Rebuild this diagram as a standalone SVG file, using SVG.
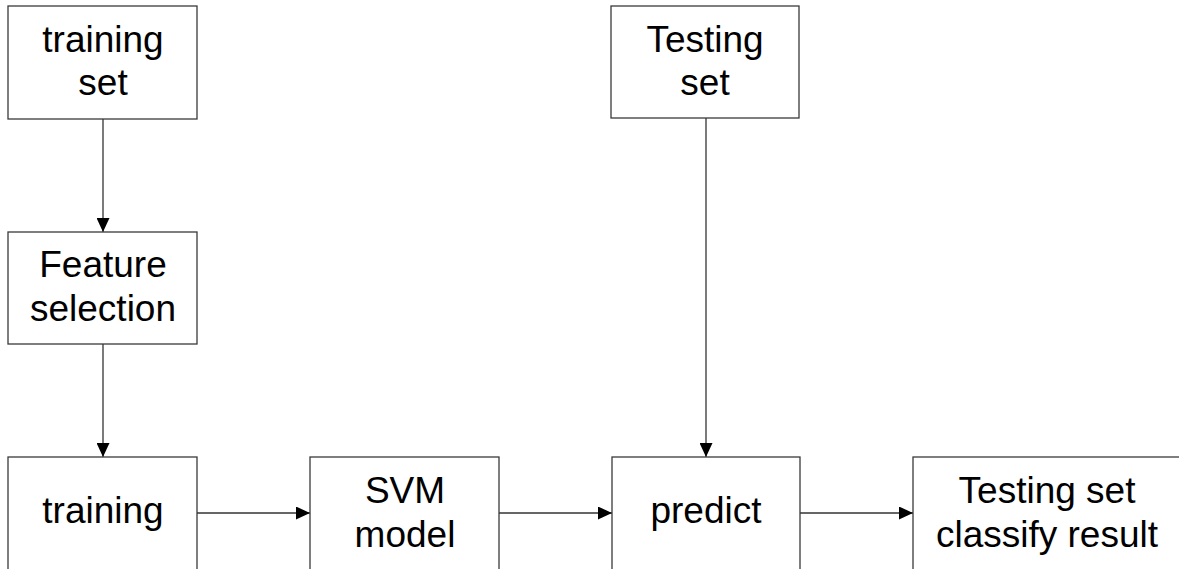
<svg xmlns="http://www.w3.org/2000/svg" width="1179" height="569" viewBox="0 0 1179 569">
<style>
.box{fill:#fff;stroke:#3a3a3a;stroke-width:1.3}
.t{font-family:"Liberation Sans",Arial,sans-serif;font-size:37px;fill:#000;text-anchor:middle}
.c{stroke:#333;stroke-width:1.3;fill:none;marker-end:url(#ah)}
</style>
<defs>
<marker id="ah" markerUnits="userSpaceOnUse" markerWidth="14" markerHeight="13" refX="14" refY="6.5" orient="auto">
<path d="M0,0 L14,6.5 L0,13 Z" fill="#000"/>
</marker>
</defs>
<rect width="1179" height="569" fill="#fff"/>
<g id="connectors">
<line class="c" x1="103" y1="119" x2="103" y2="232"/>
<line class="c" x1="103" y1="344" x2="103" y2="457"/>
<line class="c" x1="706" y1="118" x2="706" y2="457"/>
<line class="c" x1="197" y1="513" x2="310" y2="513"/>
<line class="c" x1="499" y1="513" x2="612" y2="513"/>
<line class="c" x1="800" y1="513" x2="913" y2="513"/>
</g>
<g id="training-set">
<rect class="box" x="8" y="6" width="189" height="113"/>
<text class="t" x="103" y="52">training</text>
<text class="t" x="103" y="95">set</text>
</g>
<g id="feature-selection">
<rect class="box" x="8" y="232" width="189" height="112"/>
<text class="t" x="103" y="277">Feature</text>
<text class="t" x="103" y="321">selection</text>
</g>
<g id="testing-set">
<rect class="box" x="611" y="6" width="188" height="112"/>
<text class="t" x="705" y="52">Testing</text>
<text class="t" x="705" y="95">set</text>
</g>
<g id="training">
<rect class="box" x="8" y="457" width="189" height="130"/>
<text class="t" x="103" y="523">training</text>
</g>
<g id="svm-model">
<rect class="box" x="310" y="457" width="189" height="130"/>
<text class="t" x="405" y="503">SVM</text>
<text class="t" x="405" y="547">model</text>
</g>
<g id="predict">
<rect class="box" x="612" y="457" width="188" height="130"/>
<text class="t" x="706" y="523">predict</text>
</g>
<g id="result">
<rect class="box" x="913" y="457" width="270" height="130"/>
<text class="t" x="1047" y="503">Testing set</text>
<text class="t" x="1047" y="547">classify result</text>
</g>
</svg>
